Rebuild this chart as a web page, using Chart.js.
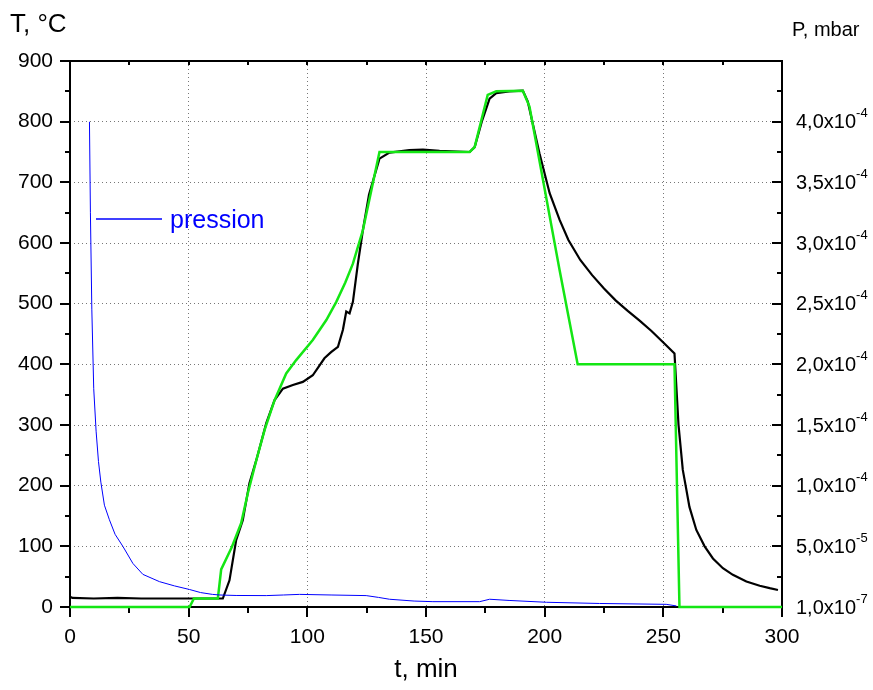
<!DOCTYPE html>
<html>
<head>
<meta charset="utf-8">
<script src="https://cdn.jsdelivr.net/npm/chart.js@4"></script>
<style>
  body { margin: 0; background: #fff; }
  #wrap { width: 873px; height: 690px; }
</style>
</head>
<body>
<div id="wrap"><canvas id="tempChart" width="873" height="690"></canvas></div>
<script>
// measured temperature (black)
const tBlack = [0, 1, 10, 20, 30, 40, 50, 60, 64.4, 67.2, 70, 72.8, 75.6, 78.5, 82.7, 86.2, 89.7, 93.9, 98.1, 102.3, 107.2, 110, 112.9, 115, 116.4, 117.8, 119.2, 121.3, 123.4, 126, 130.4, 134.6, 143, 148.7, 155.7, 168.4, 170.5, 173.5, 176.8, 179.6, 185, 190.8, 192.9, 197.8, 202.1, 206.3, 210, 215, 220, 225, 230, 235, 240, 245, 250, 254.7, 256.4, 258.2, 259.4, 261, 263.9, 267.4, 270.9, 275.1, 279.3, 285, 290.6, 294.8, 298.3];
const tempBlack = [17, 15, 14, 15, 14, 14, 14, 14, 14, 44, 110, 143, 204, 242, 303, 341, 360, 366, 371, 382, 410, 420, 429, 457, 487, 484, 503, 566, 621, 680, 739, 749, 753, 754, 752, 750, 758, 800, 838, 847, 850, 851, 833, 748, 682, 638, 605, 572, 547, 525, 505, 488, 472, 455, 436, 418, 300, 226, 200, 165, 127, 100, 80, 64, 53, 42, 35, 31, 28];

// set point (green)
const tGreen = [0, 50.4, 52.2, 62.3, 63.7, 68.2, 72.1, 74.9, 78.5, 82, 86.2, 91.1, 95.3, 102.3, 108, 112.2, 116, 119.2, 123.4, 130.4, 168.4, 170.5, 176, 179.6, 190.8, 193.6, 206.3, 213.9, 254.7, 256.8, 300];
const tempGreen = [0, 0, 14, 14, 62, 99, 138, 187, 242, 292, 341, 385, 407, 440, 473, 503, 535, 566, 621, 750, 750, 758, 844, 850, 851, 825, 555, 400, 400, 0, 0];

// pression, mbar (blue)
const tPress = [8.2, 8.6, 9.2, 10, 11, 12, 13, 14.5, 16.6, 19, 22.3, 26.5, 30.7, 37.7, 44, 50.4, 55, 60, 63, 70, 82.7, 90, 96.7, 110, 124.8, 130, 134.6, 145, 152.9, 172.6, 176.8, 185, 200.7, 223.1, 251.2, 255.5];
const press = [4.0e-4, 3.25e-4, 2.45e-4, 1.8e-4, 1.45e-4, 1.2e-4, 1.03e-4, 8.4e-5, 7.2e-5, 6.0e-5, 5.0e-5, 3.6e-5, 2.7e-5, 2.1e-5, 1.75e-5, 1.45e-5, 1.2e-5, 1.05e-5, 1.0e-5, 9.6e-6, 9.5e-6, 1.0e-5, 1.05e-5, 1.0e-5, 9.5e-6, 8e-6, 6.5e-6, 5e-6, 4.5e-6, 4.5e-6, 6.5e-6, 5.5e-6, 4e-6, 3e-6, 2.3e-6, 1e-6];

// right axis tick labels
const pTicks = [1e-7, 5e-5, 1e-4, 1.5e-4, 2e-4, 2.5e-4, 3e-4, 3.5e-4, 4e-4];
const pMant = ['1,0x10', '5,0x10', '1,0x10', '1,5x10', '2,0x10', '2,5x10', '3,0x10', '3,5x10', '4,0x10'];
const pExp = ['-7', '-5', '-4', '-4', '-4', '-4', '-4', '-4', '-4'];

const FONT = "'Liberation Sans', Arial, sans-serif";

function pts(xs, ys) {
  return xs.map((x, i) => ({ x: x, y: ys[i] }));
}

// frame + ticks go under the curves (green covers the bottom axis like the original)
const decor = {
  id: 'decor',
  beforeDatasetsDraw(chart) {
    const c = chart.ctx;
    const a = chart.chartArea;
    const xs = chart.scales.x, ys = chart.scales.y;
    c.save();
    c.strokeStyle = '#000';
    c.lineWidth = 2;
    c.strokeRect(a.left, a.top, a.right - a.left, a.bottom - a.top);

    c.beginPath();
    // left + right ticks every 50 degC
    for (let v = 0; v <= 900; v += 50) {
      const y = Math.round(ys.getPixelForValue(v));
      const len = v % 100 === 0 ? 10 : 5;
      c.moveTo(a.left - len, y); c.lineTo(a.left, y);
      c.moveTo(a.right, y); c.lineTo(a.right - len, y);
    }
    // bottom + top ticks every 25 min
    for (let v = 0; v <= 300; v += 25) {
      const x = Math.round(xs.getPixelForValue(v));
      const len = v % 50 === 0 ? 10 : 6;
      c.moveTo(x, a.bottom); c.lineTo(x, a.bottom + len);
      c.moveTo(x, a.top); c.lineTo(x, a.top + 4);
    }
    c.stroke();
    c.restore();
  },
  afterDraw(chart) {
    const c = chart.ctx;
    const a = chart.chartArea;
    const ps = chart.scales.y1;
    c.save();
    // right axis labels
    c.fillStyle = '#000';
    c.textBaseline = 'middle';
    c.textAlign = 'left';
    pTicks.forEach((p, i) => {
      const y = ps.getPixelForValue(p);
      c.font = '20px ' + FONT;
      c.fillText(pMant[i], a.right + 14, y + 1);
      const w = c.measureText(pMant[i]).width;
      c.font = '13px ' + FONT;
      c.fillText(pExp[i], a.right + 14 + w, y - 8);
    });

    // axis titles
    c.textBaseline = 'alphabetic';
    c.font = '26px ' + FONT;
    c.fillText('T, \u00B0C', 10, 32);
    c.font = '20px ' + FONT;
    c.fillText('P, mbar', 792, 36);
    c.font = '26px ' + FONT;
    c.textAlign = 'center';
    c.fillText('t, min', (a.left + a.right) / 2, 677);

    // legend for pressure curve
    c.strokeStyle = '#0000ff';
    c.lineWidth = 1.5;
    c.beginPath();
    c.moveTo(96, 219); c.lineTo(162, 219);
    c.stroke();
    c.fillStyle = '#0000ff';
    c.textAlign = 'left';
    c.font = '25px ' + FONT;
    c.fillText('pression', 170, 228);
    c.restore();
  }
};

const gridDots = {
  color: '#777',
  lineWidth: 1,
  drawTicks: false
};

const ctx = document.getElementById('tempChart').getContext('2d');

const tempChart = new Chart(ctx, {
  type: 'line',
  data: {
    datasets: [
      {
        label: 'pression',
        data: pts(tPress, press),
        yAxisID: 'y1',
        borderColor: '#0000ff',
        borderWidth: 1,
        pointRadius: 0,
        tension: 0,
        clip: false,
        order: 0
      },
      {
        label: 'consigne',
        data: pts(tGreen, tempGreen),
        yAxisID: 'y',
        borderColor: '#14e614',
        borderWidth: 2.5,
        pointRadius: 0,
        tension: 0,
        clip: false,
        order: 1
      },
      {
        label: 'T',
        data: pts(tBlack, tempBlack),
        yAxisID: 'y',
        borderColor: '#000000',
        borderWidth: 2.2,
        pointRadius: 0,
        tension: 0,
        clip: false,
        order: 2
      }
    ]
  },
  options: {
    responsive: false,
    animation: false,
    devicePixelRatio: 1,
    layout: { padding: { top: 61, left: 0, right: 0, bottom: 0 } },
    plugins: {
      legend: { display: false },
      tooltip: { enabled: false }
    },
    scales: {
      x: {
        type: 'linear',
        min: 0,
        max: 300,
        afterFit: (s) => { s.height = 83; },
        ticks: { stepSize: 50, color: '#000', padding: 18, font: { family: FONT, size: 21 } },
        grid: gridDots,
        border: { display: false, dash: [1, 3] }
      },
      y: {
        min: 0,
        max: 900,
        afterFit: (s) => { s.width = 70; },
        ticks: { stepSize: 100, color: '#000', padding: 17, font: { family: FONT, size: 21 } },
        grid: gridDots,
        border: { display: false, dash: [1, 3] }
      },
      y1: {
        position: 'right',
        min: 1e-7,
        max: 4.501e-4,
        afterFit: (s) => { s.width = 91; },
        ticks: { display: false },
        grid: { display: false },
        border: { display: false }
      }
    }
  },
  plugins: [decor]
});
</script>
</body>
</html>
